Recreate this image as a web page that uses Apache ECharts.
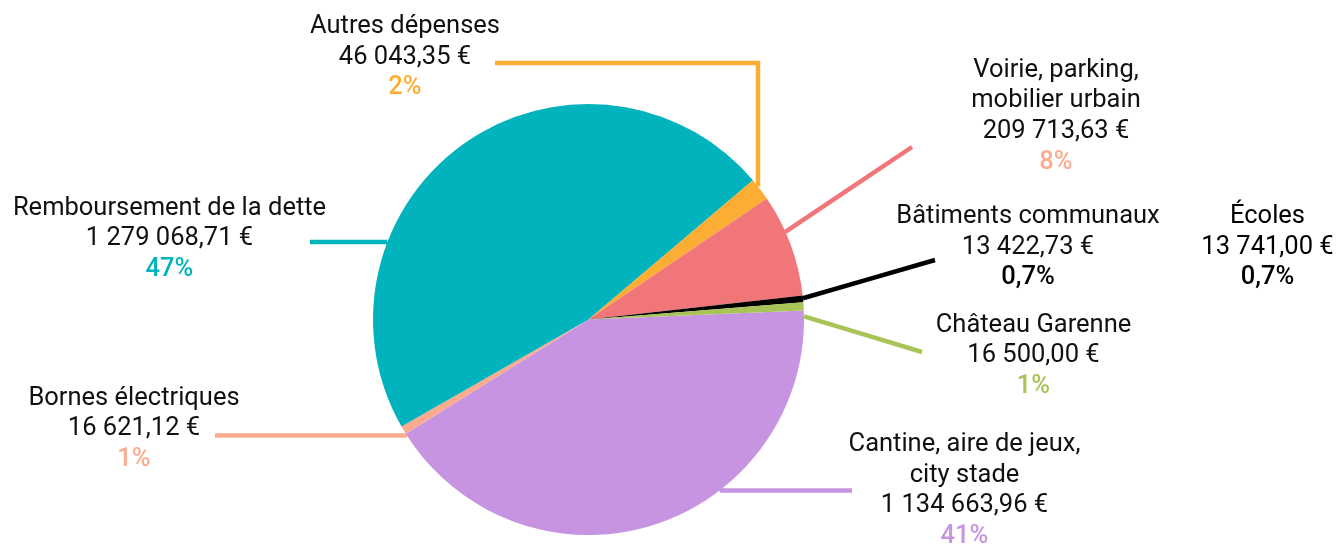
<!DOCTYPE html>
<html><head><meta charset="utf-8">
<script src="https://cdn.jsdelivr.net/npm/echarts@6/dist/echarts.min.js"></script>
<style>html,body{margin:0;padding:0;background:#fff}#c{width:1338px;height:547px}</style>
</head><body><div id="c"></div>
<script>
// ---- data ----
const categories = ['Cantine, aire de jeux,\ncity stade', 'Bornes électriques', 'Remboursement de la dette', 'Autres dépenses', 'Voirie, parking,\nmobilier urbain', 'Bâtiments communaux', 'Château Garenne', 'Écoles'];
const amounts = [1134663.96, 16621.12, 1279068.71, 46043.35, 209713.63, 13422.73, 16500.00, 13741.00];
const shareLabels = ['41%', '1%', '47%', '2%', '8%', '0,7%', '1%', '0,7%'];
const notInPie = ['Écoles'];

// ---- styles & layout ----
const sliceColors = {
  'Cantine, aire de jeux,\ncity stade': '#C794E2',
  'Bornes électriques': '#FCAB8F',
  'Remboursement de la dette': '#00B3BC',
  'Autres dépenses': '#FBAE33',
  'Voirie, parking,\nmobilier urbain': '#F1767A',
  'Bâtiments communaux': '#000000',
  'Château Garenne': '#A8C356',
  'Écoles': '#000000'
};
const shareColors = {
  'Voirie, parking,\nmobilier urbain': '#FCAB8F'
};
const CX = 588.5, CY = 319.5, R = 215.5;
const FS = 25.5;
const labelSpots = {
  'Autres dépenses': {x: 405, y: 57.5, line: [[495, 63], [758, 63], [758, 260]]},
  'Voirie, parking,\nmobilier urbain': {x: 1056, y: 116.5, line: [[912, 147], [700, 289]]},
  'Remboursement de la dette': {x: 169.5, y: 239, line: [[310, 242], [470, 242]]},
  'Bâtiments communaux': {x: 1028, y: 247.5, line: [[935, 260], [728, 320]]},
  'Château Garenne': {x: 1033.5, y: 356, line: [[922, 352], [740, 297]]},
  'Bornes électriques': {x: 134, y: 429, line: [[215, 435.5], [500, 435.5]]},
  'Cantine, aire de jeux,\ncity stade': {x: 964.5, y: 491, line: [[852, 490.5], [600, 490.5]]},
  'Écoles': {x: 1267.5, y: 247.5}
};

function fmtEuro(v) {
  const parts = v.toFixed(2).split('.');
  const int = parts[0].replace(/\B(?=(\d{3})+(?!\d))/g, ' ');
  return int + ',' + parts[1] + ' €';
}
function richText(name, amount, share) {
  const nameLines = name.split('\n').map(s => '{n|' + s + '}').join('\n');
  return nameLines + '\n{v|' + fmtEuro(amount) + '}\n{p|' + share + '}';
}
// intersection of segment P->Q with the pie circle (entering point)
function edgePoint(P, Q) {
  const dx = Q[0] - P[0], dy = Q[1] - P[1];
  const fx = P[0] - CX, fy = P[1] - CY;
  const a = dx * dx + dy * dy, b = 2 * (fx * dx + fy * dy), c = fx * fx + fy * fy - R * R;
  const disc = Math.max(0, b * b - 4 * a * c);
  const t = (-b - Math.sqrt(disc)) / (2 * a);
  return [P[0] + t * dx, P[1] + t * dy];
}
function linePoints(spec) {
  const pts = spec.slice(0, -1).map(p => p.slice());
  const last = spec[spec.length - 1];
  const e = edgePoint(pts[pts.length - 1], last);
  pts.push(e);
  pts.reverse();
  if (pts.length === 2) {
    pts.splice(1, 0, [(pts[0][0] + pts[1][0]) / 2, (pts[0][1] + pts[1][1]) / 2]);
  }
  return pts;
}

const pieData = [];
categories.forEach((c, i) => {
  if (notInPie.indexOf(c) >= 0) return;
  pieData.push({
    name: c,
    value: amounts[i],
    itemStyle: {color: sliceColors[c]},
    labelLine: {lineStyle: {color: sliceColors[c]}},
    label: {
      formatter: richText(c, amounts[i], shareLabels[i]),
      rich: {p: {color: shareColors[c] || sliceColors[c]}}
    }
  });
});

const baseRich = {
  n: {fontFamily: 'Roboto', fontSize: FS, color: '#111111', lineHeight: 30.5, align: 'center'},
  v: {fontFamily: 'Roboto', fontSize: FS, color: '#111111', lineHeight: 30.5, align: 'center'},
  p: {fontFamily: 'Roboto', fontSize: FS, fontWeight: 500, lineHeight: 31, align: 'center'}
};

const graphics = [];
categories.forEach((c, i) => {
  if (notInPie.indexOf(c) < 0) return;
  const s = labelSpots[c];
  graphics.push({
    type: 'text', x: s.x, y: s.y,
    style: {
      text: richText(c, amounts[i], shareLabels[i]),
      align: 'center', verticalAlign: 'middle',
      rich: {
        n: baseRich.n, v: baseRich.v,
        p: Object.assign({}, baseRich.p, {fill: shareColors[c] || sliceColors[c]})
      }
    }
  });
});

const chart = echarts.init(document.getElementById('c'), null, {renderer: 'canvas'});
chart.setOption({
  animation: false,
  backgroundColor: '#ffffff',
  series: [{
    type: 'pie',
    center: [CX, CY],
    radius: R,
    startAngle: 2.4,
    clockwise: true,
    avoidLabelOverlap: false,
    itemStyle: {borderWidth: 0},
    label: {
      show: true, position: 'outside', fontFamily: 'Roboto', fontSize: FS, color: '#111111',
      align: 'center',
      rich: baseRich
    },
    labelLine: {show: true, length: 10, length2: 10, lineStyle: {width: 4.5}},
    labelLayout: function (params) {
      const name = pieData[params.dataIndex] ? pieData[params.dataIndex].name : null;
      const s = labelSpots[name];
      if (!s) return {};
      return {
        x: s.x, y: s.y, align: 'center', verticalAlign: 'middle',
        labelLinePoints: linePoints(s.line)
      };
    },
    data: pieData
  }],
  graphic: graphics
});
</script></body></html>
